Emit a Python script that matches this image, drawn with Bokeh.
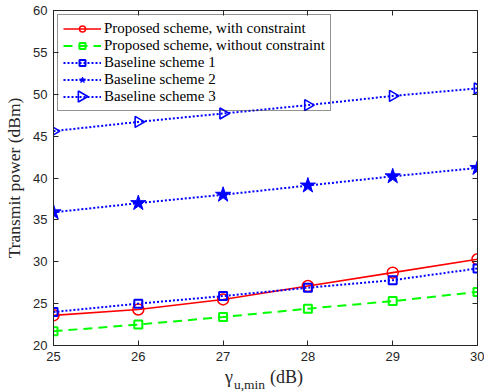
import math
from bokeh.plotting import figure
from bokeh.models import LinearAxis, Range1d, FixedTicker, Legend, LegendItem, Div
from bokeh.layouts import column
from bokeh.embed import file_html
from bokeh.resources import INLINE

# ---- data ----
gamma_db = [25, 26, 27, 28, 29, 30]
proposed_with = [23.6, 24.3, 25.5, 27.1, 28.7, 30.3]
proposed_without = [21.7, 22.5, 23.4, 24.4, 25.3, 26.4]
baseline1 = [24.0, 25.0, 25.9, 26.9, 27.8, 29.2]
baseline2 = [35.9, 37.0, 38.0, 39.1, 40.2, 41.2]
baseline3 = [45.6, 46.7, 47.7, 48.7, 49.8, 50.7]
x_ticks = [25, 26, 27, 28, 29, 30]
y_ticks = [20, 25, 30, 35, 40, 45, 50, 55, 60]
series_labels = ["Proposed scheme, with constraint",
                 "Proposed scheme, without constraint",
                 "Baseline scheme 1", "Baseline scheme 2", "Baseline scheme 3"]

AX = "#262626"
X0, X1, Y0, Y1 = 25, 30, 20, 60
FRAME_W, FRAME_H = 424, 335

p = figure(width=484, height=366, output_backend="svg", toolbar_location=None,
           x_range=Range1d(X0, X1), y_range=Range1d(Y0, Y1),
           min_border_left=53, min_border_right=7, min_border_top=10, min_border_bottom=21,
           margin=0)
p.grid.visible = False
p.outline_line_color = AX
p.background_fill_color = "white"
p.border_fill_color = "white"

def style_axis(ax, ticks, labels=True):
    ax.ticker = FixedTicker(ticks=ticks)
    ax.axis_line_color = AX
    ax.major_tick_line_color = AX
    ax.major_tick_in = 5
    ax.major_tick_out = 0
    ax.minor_tick_in = 0
    ax.minor_tick_out = 0
    ax.minor_tick_line_color = None
    if labels:
        ax.major_label_text_font = "Liberation Sans"
        ax.major_label_text_font_size = "13px"
        ax.major_label_text_color = AX
        ax.major_label_standoff = 6
    else:
        ax.major_label_overrides = {t: "" for t in ticks}
        ax.major_label_standoff = 0

style_axis(p.xaxis[0], x_ticks)
style_axis(p.yaxis[0], y_ticks)
p.yaxis.axis_label = "Transmit power (dBm)"
p.yaxis.axis_label_text_font = "Liberation Serif"
p.yaxis.axis_label_text_font_size = "17.5px"
p.yaxis.axis_label_text_font_style = "normal"
p.yaxis.axis_label_text_color = AX
p.yaxis.axis_label_standoff = 6

top = LinearAxis()
style_axis(top, x_ticks, labels=False)
p.add_layout(top, "above")
right = LinearAxis()
style_axis(right, y_ticks, labels=False)
p.add_layout(right, "right")

# ---- series ----
items = []
r1 = p.line(gamma_db, proposed_with, line_color="#FF0000", line_width=1.6)
s1 = p.scatter(gamma_db, proposed_with, marker="circle", size=11, fill_color=None,
               line_color="#FF0000", line_width=1.5)
items.append(LegendItem(label=series_labels[0], renderers=[r1, s1]))

r2 = p.line(gamma_db, proposed_without, line_color="#00FF00", line_width=2, line_dash="9 6")
s2 = p.scatter(gamma_db, proposed_without, marker="square", size=8, fill_color=None,
               line_color="#00FF00", line_width=2)
items.append(LegendItem(label=series_labels[1], renderers=[r2, s2]))

r3 = p.line(gamma_db, baseline1, line_color="#0000FF", line_width=2, line_dash="2 2")
s3 = p.scatter(gamma_db, baseline1, marker="square", size=8, fill_color=None,
               line_color="#0000FF", line_width=2)
items.append(LegendItem(label=series_labels[2], renderers=[r3, s3]))

r4 = p.line(gamma_db, baseline2, line_color="#0000FF", line_width=2, line_dash="2 2")
s4 = p.scatter(gamma_db, baseline2, marker="star", size=16, fill_color="#0000FF",
               line_color="#0000FF", line_width=1)
items.append(LegendItem(label=series_labels[3], renderers=[r4, s4]))

r5 = p.line(gamma_db, baseline3, line_color="#0000FF", line_width=2, line_dash="2 2")
s5 = p.scatter(gamma_db, baseline3, marker="triangle", size=11, angle=-math.pi / 2,
               fill_color=None, line_color="#0000FF", line_width=1.6)
items.append(LegendItem(label=series_labels[4], renderers=[r5]))

# legend key symbol (right-pointing triangle) for baseline scheme 3:
# the Bokeh legend ignores marker angle, so draw the key in the legend's 5th
# glyph slot (frame-pixel offsets 28, 249 from bottom-left); the legend box
# is transparent (no data lies under it), so the key shows through.
key_x = X0 + 28 * (X1 - X0) / FRAME_W
key_y = Y0 + 249 * (Y1 - Y0) / FRAME_H
p.scatter([key_x], [key_y], marker="triangle", size=11, angle=-math.pi / 2,
          fill_color="white", line_color="#0000FF", line_width=1.6)

legend = Legend(items=items, location="top_left",
                label_text_font="Liberation Serif", label_text_font_size="15px",
                label_text_color="black",
                glyph_width=38, glyph_height=15, label_height=15, spacing=0,
                padding=5, margin=4, label_standoff=3,
                border_line_color=AX, border_line_width=1,
                background_fill_color="white", background_fill_alpha=0.0)
p.add_layout(legend)

# ---- x axis label: gamma_{u,min} (dB), as real HTML text ----
xlabel = Div(
    text=('<div style="position:relative;left:225px;top:1px;white-space:nowrap;'
          'font-family:\'Liberation Serif\';font-size:18px;line-height:20px;color:#262626">'
          'γ<span style="font-size:13.5px;position:relative;top:6px;margin-left:1px">u,min</span>'
          '<span style="margin-left:5px">(dB)</span></div>'),
    width=484, height=26, margin=0)

layout = column(p, xlabel, spacing=0, margin=0)
open("out.html", "w").write(file_html(layout, INLINE))
